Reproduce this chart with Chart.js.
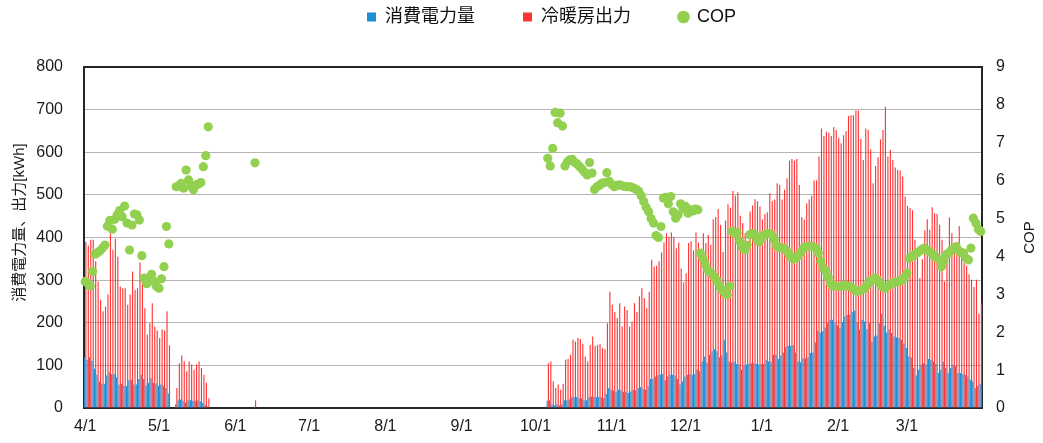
<!DOCTYPE html>
<html lang="ja">
<head>
<meta charset="utf-8">
<title>消費電力量・冷暖房出力・COP</title>
<script src="https://cdn.jsdelivr.net/npm/chart.js@4.4.0/dist/chart.umd.min.js"></script>
<style>
  html, body { margin: 0; padding: 0; background: #fff; }
  #chart { display: block; }
</style>
</head>
<body>
<canvas id="chart" width="1043" height="443"></canvas>
<script>
// fiscal year, 4/1 .. 3/31, one category per day
const monthNums = [4, 5, 6, 7, 8, 9, 10, 11, 12, 1, 2, 3];
const monthLengths = [30, 31, 30, 31, 31, 30, 31, 30, 31, 31, 28, 31];
const monthTicks = ['4/1', '5/1', '6/1', '7/1', '8/1', '9/1', '10/1', '11/1', '12/1', '1/1', '2/1', '3/1'];

const leftTitle = '消費電力量、出力[kWh]';
const rightTitle = 'COP';

const days = [];
monthNums.forEach((m, i) => {
  for (let d = 1; d <= monthLengths[i]; d++) days.push(m + '/' + d);
});

// 消費電力量 [kWh]
const powerUse = [
  // Apr
  119,113,119,111,92,78,62,57,57,76,84,80,80,72,55,57,52,51,65,66,55,55,68,78,68,53,59,69,59,57,
  // May
  52,55,52,47,34,0,0,9,18,20,17,13,18,18,17,17,18,16,12,7,4,0,0,0,0,0,0,0,0,0,0,
  // Jun
  0,0,0,0,0,0,0,0,3,0,0,0,0,0,0,0,0,0,0,0,0,0,0,0,0,0,0,0,0,0,
  // Jul
  0,0,0,0,0,0,0,0,0,0,0,0,0,0,0,0,0,0,0,0,0,0,0,0,0,0,0,0,0,0,0,
  // Aug
  0,0,0,0,0,0,0,0,0,0,0,0,0,0,0,0,0,0,0,0,0,0,0,0,0,0,0,0,0,0,0,
  // Sep
  0,0,0,0,0,0,0,0,0,0,0,0,0,0,0,0,0,0,0,0,0,0,0,0,0,0,0,0,0,0,
  // Oct
  0,0,0,0,0,17,18,9,6,8,6,9,18,18,20,25,25,26,23,23,18,18,25,27,26,26,26,25,23,33,47,
  // Nov
  43,41,38,43,41,38,38,35,39,43,41,47,49,45,43,51,68,68,74,77,78,80,65,74,78,78,76,68,55,62,
  // Dec
  74,78,80,78,80,91,86,109,120,107,125,133,138,133,119,123,160,130,109,107,109,103,102,90,99,102,104,105,105,104,102,
  // Jan
  103,103,112,109,109,125,125,115,123,130,143,146,146,148,130,109,107,116,117,119,129,130,154,181,177,180,188,199,207,207,199,
  // Feb
  194,188,201,215,219,219,225,228,201,184,207,203,185,199,156,168,170,199,221,193,177,185,176,168,166,164,160,151,
  // Mar
  141,121,119,94,76,90,102,105,102,115,113,109,104,82,90,109,94,82,94,102,98,82,82,80,78,74,66,62,47,52,57
];

// 冷暖房出力 [kWh]
const heatOutput = [
  // Apr
  390,381,395,395,344,297,254,227,238,266,410,371,397,355,285,281,281,242,266,320,277,281,342,305,234,172,199,246,191,182,
  // May
  164,184,182,227,147,0,0,47,105,123,109,86,109,102,90,102,109,94,78,59,23,0,0,0,0,0,0,0,0,0,0,
  // Jun
  0,0,0,0,0,0,0,0,18,0,0,0,0,0,0,0,0,0,0,0,0,0,0,0,0,0,0,0,0,0,
  // Jul
  0,0,0,0,0,0,0,0,0,0,0,0,0,0,0,0,0,0,0,0,0,0,0,0,0,0,0,0,0,0,0,
  // Aug
  0,0,0,0,0,0,0,0,0,0,0,0,0,0,0,0,0,0,0,0,0,0,0,0,0,0,0,0,0,0,0,
  // Sep
  0,0,0,0,0,0,0,0,0,0,0,0,0,0,0,0,0,0,0,0,0,0,0,0,0,0,0,0,0,0,
  // Oct
  0,0,0,0,0,105,109,62,47,55,43,57,113,115,125,160,156,164,162,151,121,109,148,168,146,148,150,141,138,199,273,
  // Nov
  242,225,211,246,191,238,230,191,203,246,225,262,281,258,234,273,348,332,334,344,365,388,410,402,412,402,375,388,327,295,
  // Dec
  316,387,391,370,412,388,363,410,387,406,383,443,448,467,430,366,440,478,470,509,498,506,451,434,410,387,461,475,490,485,473,
  // Jan
  442,455,459,504,485,489,527,523,489,512,539,580,584,580,584,523,448,442,480,489,498,534,534,590,656,638,648,646,638,659,652,
  // Feb
  634,621,640,650,685,687,687,698,698,631,582,656,652,607,527,568,588,630,652,707,590,605,582,564,559,557,543,496,
  // Mar
  474,469,464,395,363,305,349,417,443,418,471,457,455,430,395,297,340,447,410,375,363,427,355,340,334,314,301,284,301,221,246
];

// COP (right axis), null = no operation
const cop = [
  // Apr
  3.34,3.30,3.22,3.60,4.06,4.10,4.15,4.22,4.30,4.80,4.95,4.72,4.98,5.10,5.21,5.05,5.33,4.88,4.17,4.83,5.12,5.10,4.96,4.02,3.43,3.28,3.34,3.53,3.34,3.21,
  // May
  3.16,3.41,3.73,4.79,4.33,null,null,5.84,5.86,5.93,5.80,6.28,6.02,5.85,5.76,5.89,5.91,5.95,6.37,6.66,7.42,null,null,null,null,null,null,null,null,null,null,
  // Jun
  null,null,null,null,null,null,null,null,6.47,null,null,null,null,null,null,null,null,null,null,null,null,null,null,null,null,null,null,null,null,null,
  // Jul
  null,null,null,null,null,null,null,null,null,null,null,null,null,null,null,null,null,null,null,null,null,null,null,null,null,null,null,null,null,null,null,
  // Aug
  null,null,null,null,null,null,null,null,null,null,null,null,null,null,null,null,null,null,null,null,null,null,null,null,null,null,null,null,null,null,null,
  // Sep
  null,null,null,null,null,null,null,null,null,null,null,null,null,null,null,null,null,null,null,null,null,null,null,null,null,null,null,null,null,null,
  // Oct
  null,null,null,null,null,6.59,6.39,6.85,7.80,7.53,7.78,7.44,6.39,6.50,6.55,6.56,6.48,6.44,6.37,6.30,6.22,6.15,6.48,6.20,5.77,5.84,5.88,5.93,5.95,6.21,5.98,
  // Nov
  5.90,5.84,5.87,5.89,5.87,5.85,5.84,5.84,5.83,5.80,5.77,5.72,5.60,5.45,5.30,5.18,5.00,4.88,4.55,4.50,4.79,5.54,5.56,5.39,5.58,5.18,5.01,5.10,5.39,5.27,
  // Dec
  5.32,5.14,5.23,5.20,5.25,5.23,4.09,3.95,3.80,3.65,3.58,3.52,3.43,3.35,3.20,3.10,3.03,2.99,3.22,4.66,4.60,4.63,4.40,4.25,4.17,4.30,4.57,4.60,4.58,4.45,4.39,
  // Jan
  4.50,4.57,4.60,4.60,4.57,4.45,4.28,4.24,4.22,4.22,4.15,4.05,3.98,3.93,3.96,4.05,4.12,4.22,4.25,4.26,4.27,4.25,4.22,4.09,3.87,3.69,3.62,3.45,3.28,3.22,3.22,
  // Feb
  3.21,3.22,3.22,3.24,3.22,3.20,3.15,3.10,3.08,3.10,3.14,3.17,3.25,3.35,3.38,3.43,3.38,3.30,3.20,3.16,3.22,3.25,3.30,3.31,3.33,3.34,3.38,3.45,
  // Mar
  3.56,3.95,4.00,4.05,4.09,4.13,4.18,4.22,4.17,4.13,4.09,4.02,3.96,3.91,3.73,3.88,4.05,4.09,4.17,4.20,4.26,4.15,4.10,4.09,3.95,3.91,4.22,5.01,4.88,4.72,4.66
];

if (powerUse.length !== days.length || heatOutput.length !== days.length || cop.length !== days.length) {
  throw new Error('length mismatch ' + days.length + ' ' + powerUse.length + ' ' + heatOutput.length + ' ' + cop.length);
}

const fontFamily = '"Liberation Sans", "Noto Sans CJK JP", sans-serif';
Chart.defaults.font.family = fontFamily;
Chart.defaults.color = '#1a1a1a';

// black frame round the plot area
const frame = {
  id: 'frame',
  beforeDatasetsDraw(chart) {
    const { ctx, chartArea: a } = chart;
    ctx.save();
    ctx.strokeStyle = '#262626';
    ctx.lineWidth = 2;
    ctx.strokeRect(a.left, a.top, a.right - a.left, a.bottom - a.top);
    ctx.restore();
  }
};

// both axis titles read bottom to top, like the original
const axisTitles = {
  id: 'axisTitles',
  afterDraw(chart) {
    const { ctx, chartArea: a } = chart;
    const mid = (a.top + a.bottom) / 2;
    ctx.save();
    ctx.fillStyle = '#1a1a1a';
    ctx.font = '15px ' + fontFamily;
    ctx.textAlign = 'center';
    ctx.textBaseline = 'middle';
    [[leftTitle, 20, mid - 15], [rightTitle, 1030, mid]].forEach(([text, x, y]) => {
      ctx.save();
      ctx.translate(x, y);
      ctx.rotate(-Math.PI / 2);
      ctx.fillText(text, 0, 0);
      ctx.restore();
    });
    ctx.restore();
  }
};

// legend keeps the wide item gaps but sits higher, with room below it
const legendPlace = {
  id: 'legendPlace',
  beforeLayout(chart) {
    const lg = chart.legend;
    if (!lg || lg.placed) return;
    const fit = lg.fit;
    const draw = lg.draw;
    lg.fit = function () { fit.call(this); this.height = 67; };
    lg.draw = function () {
      this.ctx.save();
      this.ctx.translate(30, -40);
      draw.call(this);
      this.ctx.restore();
    };
    lg.placed = true;
  }
};

new Chart(document.getElementById('chart'), {
  type: 'bar',
  data: {
    labels: days,
    datasets: [
      {
        label: '消費電力量',
        data: powerUse,
        backgroundColor: '#1f8fd5',
        pointStyle: 'rect',
        yAxisID: 'y',
        categoryPercentage: 1,
        barPercentage: 0.92
      },
      {
        label: '冷暖房出力',
        data: heatOutput,
        backgroundColor: '#ff3535',
        pointStyle: 'rect',
        yAxisID: 'y',
        categoryPercentage: 1,
        barPercentage: 0.92
      },
      {
        type: 'line',
        label: 'COP',
        data: cop,
        yAxisID: 'y1',
        showLine: false,
        pointStyle: 'circle',
        pointRadius: 4.6,
        pointHoverRadius: 4.6,
        pointBorderWidth: 0,
        pointBackgroundColor: '#92d050',
        backgroundColor: '#92d050',
        borderColor: '#92d050',
        order: -1
      }
    ]
  },
  options: {
    responsive: false,
    animation: false,
    devicePixelRatio: 1,
    layout: { padding: 0 },
    plugins: {
      legend: {
        position: 'top',
        labels: {
          usePointStyle: true,
          boxWidth: 9,
          boxHeight: 9,
          padding: 48,
          color: '#111',
          font: { size: 18 },
          sort: (a, b) => a.datasetIndex - b.datasetIndex
        }
      },
      tooltip: { enabled: false }
    },
    scales: {
      x: {
        offset: true,
        grid: { display: false, drawTicks: false },
        border: { display: false },
        ticks: {
          autoSkip: false,
          maxRotation: 0,
          minRotation: 0,
          padding: 9,
          font: { size: 16 },
          callback(value, index) {
            const d = days[index];
            return monthTicks.includes(d) ? d : '';
          }
        },
        afterFit(scale) { scale.height = 35; }
      },
      y: {
        position: 'left',
        min: 0,
        max: 800,
        ticks: { stepSize: 100, padding: 21, font: { size: 16 } },
        grid: { color: '#b5b5b5', drawTicks: false },
        border: { display: false },
        afterFit(scale) { scale.width = 84; }
      },
      y1: {
        position: 'right',
        min: 0,
        max: 9,
        ticks: { stepSize: 1, padding: 14, font: { size: 16 } },
        grid: { drawOnChartArea: false, drawTicks: false },
        border: { display: false },
        afterFit(scale) { scale.width = 61; }
      }
    }
  },
  plugins: [frame, axisTitles, legendPlace]
});
</script>
</body>
</html>
